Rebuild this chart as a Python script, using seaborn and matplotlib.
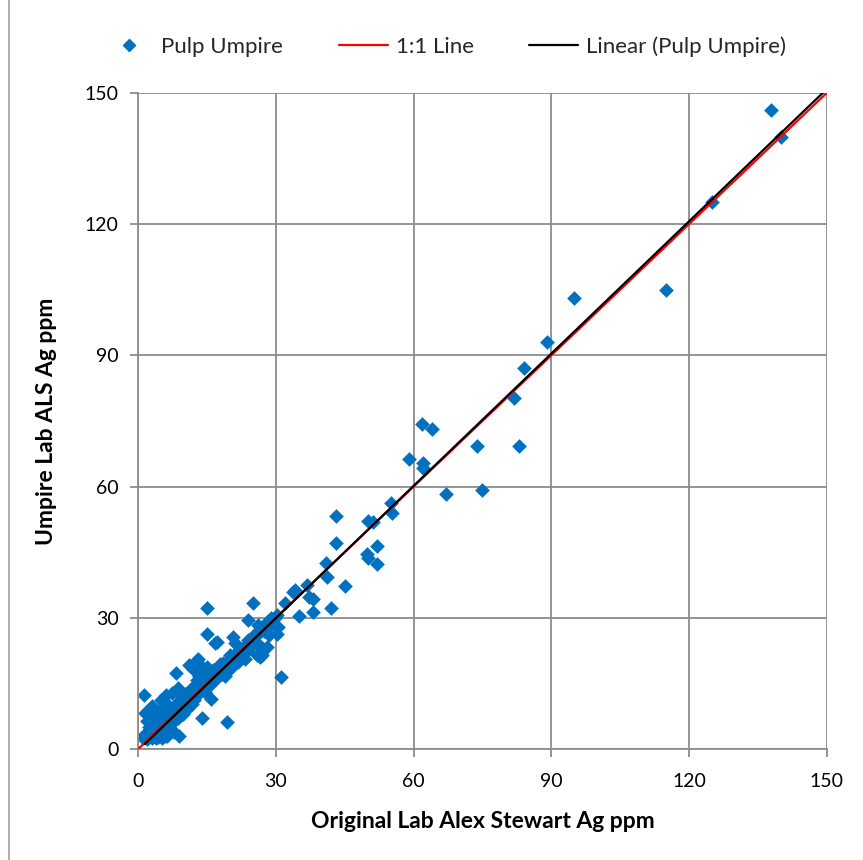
import matplotlib
matplotlib.use("Agg")
import matplotlib.pyplot as plt
import seaborn as sns
import numpy as np
import pandas as pd
from matplotlib.lines import Line2D

# Original lab (Alex Stewart) Ag ppm
original_ag = [
    1.0, 1.2, 1.5, 1.8, 2.2, 2.6, 3.0, 3.4, 3.8, 4.3, 4.8, 5.3, 5.8, 6.4, 1.2,
    1.6, 2.0, 2.3, 2.6, 3.0, 3.2, 3.6, 4.0, 4.2, 4.6, 4.9, 5.0, 5.2, 5.5, 5.8,
    6.0, 6.2, 6.5, 6.8, 7.0, 7.2, 7.4, 7.6, 7.8, 8.0, 8.2, 8.4, 8.6, 8.8, 9.0,
    9.2, 9.5, 9.8, 10.0, 10.3, 10.6, 11.0, 11.0, 11.3, 11.7, 12.0, 12.0, 12.4,
    12.8, 12.8, 13.1, 13.1, 13.3, 13.5, 13.9, 14.0, 14.3, 14.6, 14.6, 15.0,
    15.1, 15.1, 15.3, 15.3, 15.8, 16.0, 16.4, 16.8, 16.8, 17.1, 17.5, 18.0,
    18.6, 19.0, 19.3, 19.7, 20.0, 20.3, 20.7, 21.1, 21.5, 21.8, 22.3, 22.8,
    23.3, 24.0, 24.0, 24.4, 25.1, 25.8, 25.8, 26.2, 26.6, 26.9, 26.9, 27.6,
    28.0, 28.5, 29.1, 29.8, 30.2, 30.5, 30.2, 31.1, 32.0, 33.8, 34.2, 35.1,
    36.7, 37.3, 38.2, 38.0, 40.9, 41.2, 42.1, 43.1, 43.1, 45.1, 49.9, 50.1,
    50.0, 51.2, 52.0, 52.0, 55.0, 55.2, 59.1, 61.9, 64.1, 62.0, 62.1, 67.1,
    73.9, 75.0, 83.0, 81.9, 84.0, 89.0, 95.0, 115.0, 125.0, 137.9, 140.1,
    10.8, 11.5, 12.2, 13.6, 14.2, 15.6, 16.3, 17.0, 17.8, 18.3, 19.0, 19.5,
    20.5, 21.0, 22.0, 23.0, 23.8, 24.8, 25.5, 26.5, 27.5, 28.2, 29.0, 6.9,
    5.9, 3.5, 2.8, 8.8, 9.6, 7.8, 5.0, 4.4, 2.0,
]

# Umpire lab (ALS) Ag ppm
umpire_ag = [
    2.5, 3.2, 2.7, 3.0, 2.6, 3.1, 2.6, 3.0, 2.5, 2.8, 3.1, 2.6, 2.9, 3.0, 12.3,
    8.2, 6.5, 5.0, 7.4, 9.8, 4.4, 6.2, 8.0, 5.3, 7.0, 11.2, 9.2, 4.6, 6.5, 8.3,
    12.3, 5.5, 10.0, 7.2, 4.8, 9.0, 12.8, 6.3, 4.0, 8.4, 17.4, 10.6, 7.0, 13.9, 3.0,
    9.3, 11.8, 8.0, 10.5, 12.6, 9.2, 19.2, 11.5, 13.6, 10.2, 14.2, 18.4, 12.0,
    15.8, 20.4, 12.7, 20.7, 16.8, 19.2, 7.2, 14.0, 17.8, 16.1, 13.1, 18.8,
    32.3, 26.4, 17.3, 14.2, 11.5, 15.5, 16.9, 15.8, 24.2, 24.5, 17.7, 18.5,
    19.6, 16.8, 6.2, 20.4, 21.5, 18.6, 25.7, 24.2, 22.2, 20.0, 21.0, 23.0,
    20.5, 29.5, 24.9, 23.4, 33.3, 24.2, 21.5, 28.4, 21.1, 23.0, 21.5, 28.4,
    23.4, 26.0, 28.7, 29.9, 30.6, 28.0, 26.4, 16.4, 33.5, 36.0, 36.4, 30.4,
    37.5, 34.8, 34.4, 31.4, 42.6, 39.3, 32.3, 53.3, 47.2, 37.3, 44.5, 43.6,
    52.2, 52.0, 46.4, 42.3, 56.3, 53.9, 66.2, 74.2, 73.1, 65.3, 64.2, 58.2,
    69.2, 59.2, 69.2, 80.2, 87.2, 93.1, 103.0, 105.0, 125.0, 146.0, 139.9,
    10.0, 12.5, 11.2, 14.8, 15.6, 16.2, 18.0, 16.5, 19.4, 17.2, 19.0, 18.0,
    20.8, 21.6, 22.5, 23.2, 22.5, 25.5, 26.3, 26.8, 27.0, 29.2, 30.0, 6.0,
    6.9, 3.8, 4.2, 9.0, 9.8, 7.6, 5.0, 4.2, 2.4,
]

axis_ticks = [0, 30, 60, 90, 120, 150]
one_to_one = [0, 150]

# Excel "Linear (Pulp Umpire)" trendline
# (the series extends past the axis limits, so the fit is read, not refit)
trend_slope = 1.008
trend_intercept = -0.33
trend_x_range = [1.46, 150.0]

df = pd.DataFrame({"orig": original_ag, "ump": umpire_ag})
trend_x = np.array(trend_x_range)
trend_df = pd.DataFrame({"x": trend_x, "y": trend_slope * trend_x + trend_intercept})
ref_df = pd.DataFrame({"x": one_to_one, "y": one_to_one})

sns.set_theme(style="white")
plt.rcParams["font.family"] = ["Lato", "DejaVu Sans"]

fig = plt.figure(figsize=(8.63, 8.60), dpi=100)
ax = fig.add_axes([0.160, 0.129, 0.798, 0.763])

grid_c = "#8c8c8c"
blue = "#0070C0"

sns.lineplot(data=ref_df, x="x", y="y", ax=ax, color="#FF0000", lw=1.6,
             zorder=3, legend=False)
sns.lineplot(data=trend_df, x="x", y="y", ax=ax, color="black", lw=1.6,
             zorder=4, legend=False)
sns.scatterplot(data=df, x="orig", y="ump", ax=ax, marker="D", s=56,
                color=blue, edgecolor=blue, linewidth=0, zorder=2, legend=False)

ax.set_xlim(0, 150)
ax.set_ylim(0, 150)
ax.set_xticks(axis_ticks)
ax.set_yticks(axis_ticks)
ax.set_xticklabels([str(t) for t in axis_ticks])
ax.set_yticklabels([str(t) for t in axis_ticks])
ax.grid(True, color=grid_c, lw=1.3)
ax.set_axisbelow(True)
for s in ["top", "right"]:
    ax.spines[s].set_visible(False)
for s in ["left", "bottom"]:
    ax.spines[s].set_color(grid_c)
    ax.spines[s].set_linewidth(1.3)
ax.tick_params(axis="both", which="both", direction="out", length=6, width=1.3,
               color=grid_c, labelsize=14, labelcolor="black",
               bottom=True, left=True)
ax.tick_params(axis="x", pad=11)
ax.tick_params(axis="y", pad=8)
ax.set_xlabel("Original Lab Alex Stewart Ag ppm", fontsize=16.5,
              fontweight="bold", labelpad=15, color="black")
ax.set_ylabel("Umpire Lab ALS Ag ppm", fontsize=16.5, fontweight="bold",
              labelpad=20, color="black")

handles = [
    Line2D([], [], marker="D", color=blue, linestyle="none", markersize=6),
    Line2D([], [], color="#FF0000", lw=1.6),
    Line2D([], [], color="black", lw=1.6),
]
labels = ["Pulp Umpire", "1:1 Line", "Linear (Pulp Umpire)"]
fig.legend(handles, labels, loc="center", bbox_to_anchor=(0.516, 0.946), ncol=3,
           frameon=False, fontsize=16, handlelength=2.2, columnspacing=2.5,
           handletextpad=0.35)

fig.add_artist(Line2D([0.011, 0.011], [0.0, 1.0], transform=fig.transFigure,
                      color="#a0a0a0", lw=1.2))

fig.savefig("out.png", dpi=100)
